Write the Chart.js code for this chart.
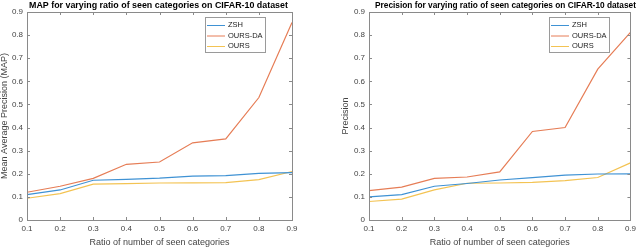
<!DOCTYPE html>
<html>
<head>
<meta charset="utf-8">
<script src="https://cdn.jsdelivr.net/npm/chart.js@4.4.1/dist/chart.umd.min.js"></script>
<style>
  body { margin: 0; background: #fff; }
  .wrap { display: flex; width: 640px; height: 247px; }
  .box { position: relative; width: 320px; height: 247px; }
</style>
</head>
<body>
<div class="wrap">
  <div class="box"><canvas id="mapChart"></canvas></div>
  <div class="box"><canvas id="precChart"></canvas></div>
</div>
<script>
// ratio of seen categories (x axis)
var ratios = ['0.1', '0.2', '0.3', '0.4', '0.5', '0.6', '0.7', '0.8', '0.9'];
var seriesNames = ['ZSH', 'OURS-DA', 'OURS'];
var yTicks = [0, 0.1, 0.2, 0.3, 0.4, 0.5, 0.6, 0.7, 0.8, 0.9];

// MAP chart values
var mapZSH = [0.11, 0.13, 0.172, 0.176, 0.181, 0.19, 0.192, 0.202, 0.205];
var mapOursDA = [0.12, 0.146, 0.18, 0.241, 0.251, 0.334, 0.351, 0.53, 0.855];
var mapOurs = [0.094, 0.114, 0.155, 0.157, 0.16, 0.161, 0.162, 0.175, 0.21];

// Precision chart values
var precZSH = [0.1, 0.11, 0.146, 0.158, 0.173, 0.183, 0.194, 0.199, 0.2];
var precOursDA = [0.127, 0.142, 0.18, 0.186, 0.208, 0.383, 0.4, 0.653, 0.812];
var precOurs = [0.08, 0.09, 0.13, 0.159, 0.16, 0.163, 0.17, 0.184, 0.247];

var colors = ['#3f92d4', '#e67d56', '#f3c353'];
var axisColor = '#8a8a8a';
var textColor = '#444';

// draws the matlab style frame, inward ticks, title and legend
var matlabFrame = {
    id: 'matlabFrame',
    afterDraw: function(chart, args, opts) {
        var ctx = chart.ctx;
        var a = chart.chartArea;
        var xs = chart.scales.x, ys = chart.scales.y;
        ctx.save();
        ctx.strokeStyle = axisColor;
        ctx.lineWidth = 1;
        ctx.strokeRect(Math.round(a.left) + 0.5, Math.round(a.top) + 0.5,
            Math.round(a.right - a.left), Math.round(a.bottom - a.top));
        ctx.beginPath();
        ratios.forEach(function(r, i) {
            var px = Math.round(xs.getPixelForValue(i)) + 0.5;
            ctx.moveTo(px, a.bottom); ctx.lineTo(px, a.bottom - 3);
            ctx.moveTo(px, a.top); ctx.lineTo(px, a.top + 3);
        });
        yTicks.forEach(function(v) {
            var py = Math.round(ys.getPixelForValue(v)) + 0.5;
            ctx.moveTo(a.left, py); ctx.lineTo(a.left + 3, py);
            ctx.moveTo(a.right, py); ctx.lineTo(a.right - 3, py);
        });
        ctx.stroke();

        // title
        ctx.fillStyle = '#000';
        ctx.font = 'bold ' + opts.titleSize + 'px "Liberation Sans", Arial, sans-serif';
        ctx.textAlign = 'left';
        ctx.textBaseline = 'alphabetic';
        ctx.fillText(opts.title, opts.titleX, 8);

        // legend box
        var lx = opts.legendX, ly = 17, lw = 60, lh = 35;
        ctx.fillStyle = '#fff';
        ctx.fillRect(lx, ly, lw, lh);
        ctx.strokeStyle = '#9a9a9a';
        ctx.strokeRect(lx + 0.5, ly + 0.5, lw, lh);
        ctx.font = '7.5px "Liberation Sans", Arial, sans-serif';
        ctx.textBaseline = 'middle';
        chart.data.datasets.forEach(function(ds, i) {
            var yy = ly + 8 + i * 10.5;
            ctx.strokeStyle = ds.borderColor;
            ctx.beginPath();
            ctx.moveTo(lx + 2, yy + 0.5); ctx.lineTo(lx + 20, yy + 0.5);
            ctx.stroke();
            ctx.fillStyle = '#222';
            ctx.fillText(ds.label, lx + 23, yy);
        });
        ctx.restore();
    }
};

function makeChart(id, values, yTitle, yWidth, yTitlePad, rightPad, title, titleX, titleSize, legendX) {
    var ctx = document.getElementById(id).getContext('2d');
    return new Chart(ctx, {
        type: 'line',
        data: {
            labels: ratios,
            datasets: values.map(function(v, i) {
                return {
                    label: seriesNames[i],
                    data: v,
                    borderColor: colors[i],
                    borderWidth: 1.2,
                    pointRadius: 0,
                    fill: false,
                    tension: 0
                };
            })
        },
        options: {
            responsive: true,
            maintainAspectRatio: false,
            animation: false,
            layout: { padding: { top: 12, right: rightPad, left: 0, bottom: 0 } },
            plugins: {
                legend: { display: false },
                tooltip: { enabled: false },
                matlabFrame: { title: title, titleX: titleX, titleSize: titleSize, legendX: legendX }
            },
            scales: {
                x: {
                    grid: { display: false, drawTicks: false },
                    border: { display: false },
                    ticks: { color: textColor, font: { size: 8, family: '"Liberation Sans", Arial' }, padding: 4, maxRotation: 0 },
                    title: { display: true, text: 'Ratio of number of seen categories', color: textColor,
                        font: { size: 9, family: '"Liberation Sans", Arial', lineHeight: 1.1 }, padding: { top: 0, bottom: 0 } },
                    afterFit: function(s) { s.height = 27; }
                },
                y: {
                    min: 0,
                    max: 0.9,
                    grid: { display: false, drawTicks: false },
                    border: { display: false },
                    ticks: { stepSize: 0.1, color: textColor, font: { size: 8, family: '"Liberation Sans", Arial' }, padding: 4 },
                    title: { display: true, text: yTitle, color: textColor,
                        font: { size: 9, family: '"Liberation Sans", Arial', lineHeight: 1.1 }, padding: { top: yTitlePad, bottom: 0 } },
                    afterFit: function(s) { s.width = yWidth; }
                }
            }
        },
        plugins: [matlabFrame]
    });
}

makeChart('mapChart', [mapZSH, mapOursDA, mapOurs], 'Mean Average Precision (MAP)', 27, 0, 28,
    'MAP for varying ratio of seen categories on CIFAR-10 dataset', 29, 8.9, 205);
makeChart('precChart', [precZSH, precOursDA, precOurs], 'Precision', 49, 21, 6,
    'Precision for varying ratio of seen categories on CIFAR-10 dataset', 55, 8.3, 229);
</script>
</body>
</html>
